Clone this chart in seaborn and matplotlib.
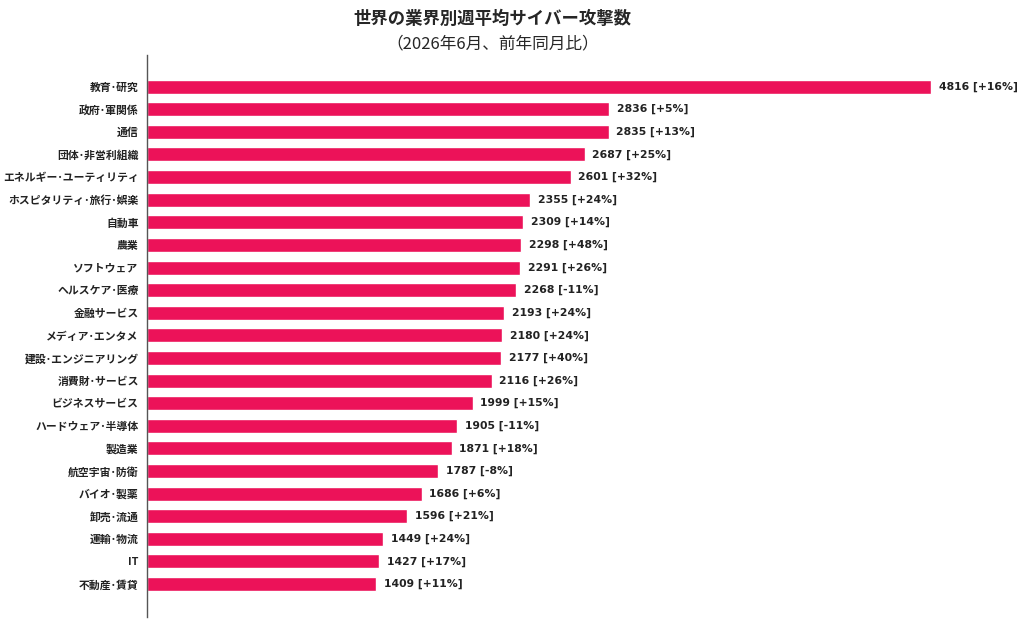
import pandas as pd
import numpy as np
import matplotlib
matplotlib.use('Agg')
import matplotlib.pyplot as plt
import seaborn as sns

# データ
sectors = ['教育･研究', '政府･軍関係', '通信', '団体･非営利組織', 'エネルギー･ユーティリティ',
           'ホスピタリティ･旅行･娯楽', '自動車', '農業', 'ソフトウェア', 'ヘルスケア･医療',
           '金融サービス', 'メディア･エンタメ', '建設･エンジニアリング', '消費財･サービス',
           'ビジネスサービス', 'ハードウェア･半導体', '製造業', '航空宇宙･防衛', 'バイオ･製薬',
           '卸売･流通', '運輸･物流', 'IT', '不動産･賃貸']
attacks = [4816, 2836, 2835, 2687, 2601, 2355, 2309, 2298, 2291, 2268, 2193, 2180, 2177,
           2116, 1999, 1905, 1871, 1787, 1686, 1596, 1449, 1427, 1409]
changes = ['+16%', '+5%', '+13%', '+25%', '+32%', '+24%', '+14%', '+48%', '+26%', '-11%',
           '+24%', '+24%', '+40%', '+26%', '+15%', '-11%', '+18%', '-8%', '+6%', '+21%',
           '+24%', '+17%', '+11%']

df = pd.DataFrame({'業界': sectors, '攻撃数': attacks, '前年比': changes})

sns.set_style('white')
plt.rcParams['font.family'] = ['Noto Sans CJK JP', 'DejaVu Sans']

fig = plt.figure(figsize=(10.24, 6.25), dpi=100)
ax = fig.add_axes([0.1436, 0.013, 0.84, 0.899])

sns.barplot(data=df, x='攻撃数', y='業界', orient='h', color='#EC1259',
            saturation=1, width=0.62, ax=ax)

for i, (v, c) in enumerate(zip(df['攻撃数'], df['前年比'])):
    ax.text(v + 48, i, f'{v} [{c}]', va='center', ha='left', fontsize=7.8,
            fontweight='bold', family='DejaVu Sans', color='#222222')

ax.set_xlim(0, 5283)
ax.set_ylim(len(df) - 1 + 1.45, -1.4)
ax.set_xlabel('')
ax.set_ylabel('')
ax.set_xticks([])
ax.tick_params(axis='y', length=3, width=0.8, color='#555555', pad=3)
for lab in ax.get_yticklabels():
    lab.set_fontsize(7.8)
    lab.set_fontweight('bold')
    lab.set_color('#222222')
for s in ['top', 'right', 'bottom']:
    ax.spines[s].set_visible(False)
ax.spines['left'].set_color('#555555')
ax.spines['left'].set_linewidth(1.0)

fig.text(0.481, 0.969, '世界の業界別週平均サイバー攻撃数', ha='center', va='center',
         fontsize=12.5, fontweight='bold')
fig.text(0.481, 0.929, '（2026年6月、前年同月比）', ha='center', va='center',
         fontsize=12)

fig.savefig('out.png', dpi=100)
